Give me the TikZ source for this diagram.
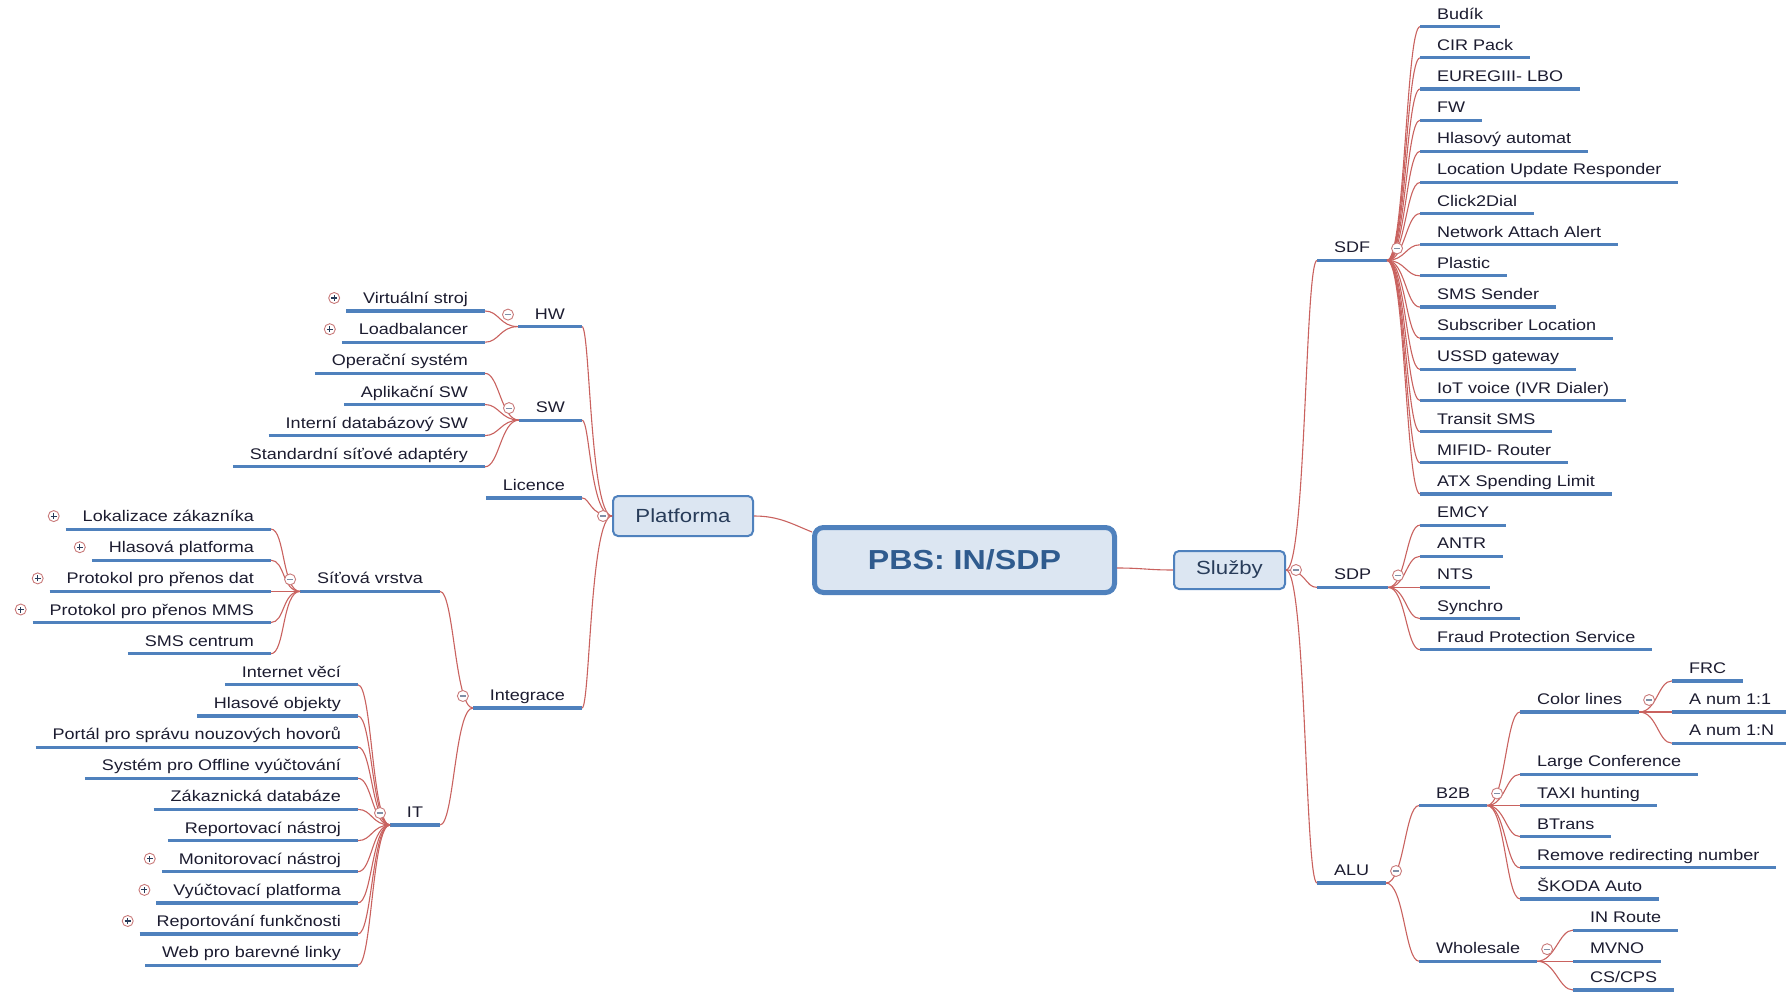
\documentclass[tikz,border=0pt]{standalone}
\usepackage{fontspec}
\setmainfont{Liberation Sans}[FakeStretch=1.17]
\definecolor{lineblue}{HTML}{4F81BD}
\definecolor{linkred}{HTML}{C9625F}
\definecolor{boxfill}{HTML}{DCE6F2}
\definecolor{rootblue}{HTML}{2F5B8E}
\definecolor{boxink}{HTML}{283C5A}
\definecolor{inkdark}{HTML}{1C1C30}
\definecolor{markred}{HTML}{C97A7A}
\definecolor{markgrey}{HTML}{7F8FA6}
\begin{document}
\begin{tikzpicture}[x=1pt, y=-1pt,
    uline/.style={draw=lineblue, line width=3.2pt},
    topic/.style={inner xsep=17pt, inner ysep=0pt, outer sep=0pt,
      text height=11.5pt, text depth=7.5pt, text=inkdark,
      font=\fontsize{15.4}{18}\selectfont,
      append after command={(\tikzlastnode.south west) edge[uline] (\tikzlastnode.south east)}},
    rtopic/.style={topic, anchor=south west},
    ltopic/.style={topic, anchor=south east},
    mainbox/.style={draw=lineblue, line width=2pt, fill=boxfill, rounded corners=5pt,
      minimum width=140pt, minimum height=40pt, text=boxink,
      font=\fontsize{19}{22}\selectfont},
    rootbox/.style={draw=lineblue, line width=5pt, fill=boxfill, rounded corners=9pt,
      minimum width=300pt, minimum height=65pt, text=rootblue,
      font=\fontsize{27.5}{30}\selectfont\bfseries},
    link/.style={draw=linkred, line width=1.1pt},
    rlink/.style={link, out=0, in=180, out distance=18pt, in distance=14pt},
    llink/.style={link, out=180, in=0, out distance=18pt, in distance=14pt},
    rtrunk/.style={link, out=0, in=180, out distance=20pt, in distance=12pt},
    ltrunk/.style={link, out=180, in=0, out distance=22pt, in distance=8pt},
    fold/.style={circle, draw=markred, fill=white, line width=0.9pt, minimum size=11pt, inner sep=0pt,
      path picture={\draw[markgrey, line width=1.1pt]
        ([xshift=-3pt]path picture bounding box.center) -- ([xshift=3pt]path picture bounding box.center);}},
    unfold/.style={circle, draw=markred, fill=white, line width=0.9pt, minimum size=11pt, inner sep=0pt,
      path picture={\draw[boxink, line width=1.1pt]
        ([xshift=-3pt]path picture bounding box.center) -- ([xshift=3pt]path picture bounding box.center)
        ([yshift=-3pt]path picture bounding box.center) -- ([yshift=3pt]path picture bounding box.center);}}]
  \useasboundingbox (0,0) rectangle (1786,992);

  % Boxes
  \node[rootbox] (root) at (964.5,560) {PBS: IN/SDP};
  \node[mainbox] (plat) at (683,516) {Platforma};
  \node[mainbox, minimum width=111pt, minimum height=38pt] (sluzby) at (1229.5,570) {Služby};

  % Left side
  \node[ltopic] (hw) at (582,326.6) {HW};
  \node[ltopic] (sw) at (582,420.1) {SW};
  \node[ltopic] (licence) at (582,497.9) {Licence};
  \node[ltopic] (integrace) at (582,708) {Integrace};
  \node[ltopic] (virtual) at (485,311.0) {Virtuální stroj};
  \node[ltopic] (loadbal) at (485,342.2) {Loadbalancer};
  \node[ltopic] (os) at (485,373.3) {Operační systém};
  \node[ltopic] (appsw) at (485,404.5) {Aplikační SW};
  \node[ltopic] (dbsw) at (485,435.6) {Interní databázový SW};
  \node[ltopic] (nic) at (485,466.8) {Standardní síťové adaptéry};
  \node[ltopic] (sitova) at (440,591.4) {Síťová vrstva};
  \node[ltopic] (it) at (440,825) {IT};
  \node[ltopic] (lokalizace) at (271,529.1) {Lokalizace zákazníka};
  \node[ltopic] (hlasplat) at (271,560.2) {Hlasová platforma};
  \node[ltopic] (protdat) at (271,591.4) {Protokol pro přenos dat};
  \node[ltopic] (protmms) at (271,622.5) {Protokol pro přenos MMS};
  \node[ltopic] (smsc) at (271,653.7) {SMS centrum};
  \node[ltopic] (iotthings) at (358,684.8) {Internet věcí};
  \node[ltopic] (hlasobj) at (358,716.0) {Hlasové objekty};
  \node[ltopic] (portal) at (358,747.1) {Portál pro správu nouzových hovorů};
  \node[ltopic] (offline) at (358,778.3) {Systém pro Offline vyúčtování};
  \node[ltopic] (zakdb) at (358,809.4) {Zákaznická databáze};
  \node[ltopic] (reptool) at (358,840.6) {Reportovací nástroj};
  \node[ltopic] (montool) at (358,871.7) {Monitorovací nástroj};
  \node[ltopic] (billing) at (358,902.9) {Vyúčtovací platforma};
  \node[ltopic] (repfunc) at (358,934.0) {Reportování funkčnosti};
  \node[ltopic] (web) at (358,965.2) {Web pro barevné linky};

  % Right side
  \node[rtopic] (sdf) at (1317,260.4) {SDF};
  \node[rtopic] (sdp) at (1317,587.4) {SDP};
  \node[rtopic] (alu) at (1317,883) {ALU};
  \node[rtopic] (budik) at (1420,26.7) {Budík};
  \node[rtopic] (cirpack) at (1420,57.9) {CIR Pack};
  \node[rtopic] (euregiii) at (1420,89.0) {EUREGIII- LBO};
  \node[rtopic] (fw) at (1420,120.2) {FW};
  \node[rtopic] (automat) at (1420,151.3) {Hlasový automat};
  \node[rtopic] (location) at (1420,182.5) {Location Update Responder};
  \node[rtopic] (click) at (1420,213.6) {Click2Dial};
  \node[rtopic] (attach) at (1420,244.8) {Network Attach Alert};
  \node[rtopic] (plastic) at (1420,275.9) {Plastic};
  \node[rtopic] (smssender) at (1420,307.1) {SMS Sender};
  \node[rtopic] (subscriber) at (1420,338.2) {Subscriber Location};
  \node[rtopic] (ussd) at (1420,369.4) {USSD gateway};
  \node[rtopic] (iotvoice) at (1420,400.5) {IoT voice (IVR Dialer)};
  \node[rtopic] (transit) at (1420,431.7) {Transit SMS};
  \node[rtopic] (mifid) at (1420,462.8) {MIFID- Router};
  \node[rtopic] (atx) at (1420,494.0) {ATX Spending Limit};
  \node[rtopic] (emcy) at (1420,525.1) {EMCY};
  \node[rtopic] (antr) at (1420,556.3) {ANTR};
  \node[rtopic] (nts) at (1420,587.4) {NTS};
  \node[rtopic] (synchro) at (1420,618.6) {Synchro};
  \node[rtopic] (fraud) at (1420,649.7) {Fraud Protection Service};
  \node[rtopic] (b2b) at (1419,805.5) {B2B};
  \node[rtopic] (wholesale) at (1419,961.2) {Wholesale};
  \node[rtopic] (colorlines) at (1520,712.0) {Color lines};
  \node[rtopic] (conference) at (1520,774.3) {Large Conference};
  \node[rtopic] (taxi) at (1520,805.5) {TAXI hunting};
  \node[rtopic] (btrans) at (1520,836.6) {BTrans};
  \node[rtopic] (redirect) at (1520,867.8) {Remove redirecting number};
  \node[rtopic] (skoda) at (1520,898.9) {ŠKODA Auto};
  \node[rtopic] (frc) at (1672,680.9) {FRC};
  \node[rtopic] (anumone) at (1672,712.0) {A num 1:1};
  \node[rtopic] (anumn) at (1672,743.2) {A num 1:N};
  \node[rtopic] (inroute) at (1573,930.1) {IN Route};
  \node[rtopic] (mvno) at (1573,961.2) {MVNO};
  \node[rtopic] (cscps) at (1573,990) {CS/CPS};

  % Connectors
  \draw[link] (plat.east) .. controls +(25,0) and +(-20,-8) .. ([yshift=-7pt]root.north west);
  \draw[link] ([yshift=-8pt]root.east) .. controls +(25,0) and +(-25,0) .. (sluzby.west);
  \draw[ltrunk] (plat.west) to (hw.south east);
  \draw[ltrunk] (plat.west) to (sw.south east);
  \draw[ltrunk] (plat.west) to (licence.south east);
  \draw[ltrunk] (plat.west) to (integrace.south east);
  \draw[llink] (hw.south west) to (virtual.south east);
  \draw[llink] (hw.south west) to (loadbal.south east);
  \draw[llink] (sw.south west) to (os.south east);
  \draw[llink] (sw.south west) to (appsw.south east);
  \draw[llink] (sw.south west) to (dbsw.south east);
  \draw[llink] (sw.south west) to (nic.south east);
  \draw[llink] (integrace.south west) to (sitova.south east);
  \draw[llink] (integrace.south west) to (it.south east);
  \draw[llink] (sitova.south west) to (lokalizace.south east);
  \draw[llink] (sitova.south west) to (hlasplat.south east);
  \draw[llink] (sitova.south west) to (protdat.south east);
  \draw[llink] (sitova.south west) to (protmms.south east);
  \draw[llink] (sitova.south west) to (smsc.south east);
  \draw[llink] (it.south west) to (iotthings.south east);
  \draw[llink] (it.south west) to (hlasobj.south east);
  \draw[llink] (it.south west) to (portal.south east);
  \draw[llink] (it.south west) to (offline.south east);
  \draw[llink] (it.south west) to (zakdb.south east);
  \draw[llink] (it.south west) to (reptool.south east);
  \draw[llink] (it.south west) to (montool.south east);
  \draw[llink] (it.south west) to (billing.south east);
  \draw[llink] (it.south west) to (repfunc.south east);
  \draw[llink] (it.south west) to (web.south east);
  \draw[rtrunk] (sluzby.east) to (sdf.south west);
  \draw[rtrunk] (sluzby.east) to (sdp.south west);
  \draw[rtrunk] (sluzby.east) to (alu.south west);
  \draw[rlink] (sdf.south east) to (budik.south west);
  \draw[rlink] (sdf.south east) to (cirpack.south west);
  \draw[rlink] (sdf.south east) to (euregiii.south west);
  \draw[rlink] (sdf.south east) to (fw.south west);
  \draw[rlink] (sdf.south east) to (automat.south west);
  \draw[rlink] (sdf.south east) to (location.south west);
  \draw[rlink] (sdf.south east) to (click.south west);
  \draw[rlink] (sdf.south east) to (attach.south west);
  \draw[rlink] (sdf.south east) to (plastic.south west);
  \draw[rlink] (sdf.south east) to (smssender.south west);
  \draw[rlink] (sdf.south east) to (subscriber.south west);
  \draw[rlink] (sdf.south east) to (ussd.south west);
  \draw[rlink] (sdf.south east) to (iotvoice.south west);
  \draw[rlink] (sdf.south east) to (transit.south west);
  \draw[rlink] (sdf.south east) to (mifid.south west);
  \draw[rlink] (sdf.south east) to (atx.south west);
  \draw[rlink] (sdp.south east) to (emcy.south west);
  \draw[rlink] (sdp.south east) to (antr.south west);
  \draw[rlink] (sdp.south east) to (nts.south west);
  \draw[rlink] (sdp.south east) to (synchro.south west);
  \draw[rlink] (sdp.south east) to (fraud.south west);
  \draw[rlink] (alu.south east) to (b2b.south west);
  \draw[rlink] (alu.south east) to (wholesale.south west);
  \draw[rlink] (b2b.south east) to (colorlines.south west);
  \draw[rlink] (b2b.south east) to (conference.south west);
  \draw[rlink] (b2b.south east) to (taxi.south west);
  \draw[rlink] (b2b.south east) to (btrans.south west);
  \draw[rlink] (b2b.south east) to (redirect.south west);
  \draw[rlink] (b2b.south east) to (skoda.south west);
  \draw[rlink] (colorlines.south east) to (frc.south west);
  \draw[rlink] (colorlines.south east) to (anumone.south west);
  \draw[rlink] (colorlines.south east) to (anumn.south west);
  \draw[rlink] (wholesale.south east) to (inroute.south west);
  \draw[rlink] (wholesale.south east) to (mvno.south west);
  \draw[rlink] (wholesale.south east) to (cscps.south west);

  % Markers
  \node[fold] (fplat) at ([xshift=-9pt]plat.west) {};
  \node[fold] (fsluzby) at ([xshift=10pt]sluzby.east) {};
  \node[fold] (fhw) at ([xshift=-10pt,yshift=12pt]hw.south west) {};
  \node[fold] (fsw) at ([xshift=-10pt,yshift=12pt]sw.south west) {};
  \node[fold] (fintegrace) at ([xshift=-10pt,yshift=12pt]integrace.south west) {};
  \node[fold] (fsitova) at ([xshift=-10pt,yshift=12pt]sitova.south west) {};
  \node[fold] (fit) at ([xshift=-10pt,yshift=12pt]it.south west) {};
  \node[fold] (fsdf) at ([xshift=10pt,yshift=12pt]sdf.south east) {};
  \node[fold] (fsdp) at ([xshift=10pt,yshift=12pt]sdp.south east) {};
  \node[fold] (falu) at ([xshift=10pt,yshift=12pt]alu.south east) {};
  \node[fold] (fb2b) at ([xshift=10pt,yshift=12pt]b2b.south east) {};
  \node[fold] (fcolor) at ([xshift=10pt,yshift=12pt]colorlines.south east) {};
  \node[fold] (fwholesale) at ([xshift=10pt,yshift=12pt]wholesale.south east) {};
  \node[unfold] (uvirtual) at ([xshift=-12pt,yshift=13pt]virtual.south west) {};
  \node[unfold] (uloadbal) at ([xshift=-12pt,yshift=13pt]loadbal.south west) {};
  \node[unfold] (ulokalizace) at ([xshift=-12pt,yshift=13pt]lokalizace.south west) {};
  \node[unfold] (uhlasplat) at ([xshift=-12pt,yshift=13pt]hlasplat.south west) {};
  \node[unfold] (uprotdat) at ([xshift=-12pt,yshift=13pt]protdat.south west) {};
  \node[unfold] (uprotmms) at ([xshift=-12pt,yshift=13pt]protmms.south west) {};
  \node[unfold] (umontool) at ([xshift=-12pt,yshift=13pt]montool.south west) {};
  \node[unfold] (ubilling) at ([xshift=-12pt,yshift=13pt]billing.south west) {};
  \node[unfold] (urepfunc) at ([xshift=-12pt,yshift=13pt]repfunc.south west) {};
\end{tikzpicture}
\end{document}
